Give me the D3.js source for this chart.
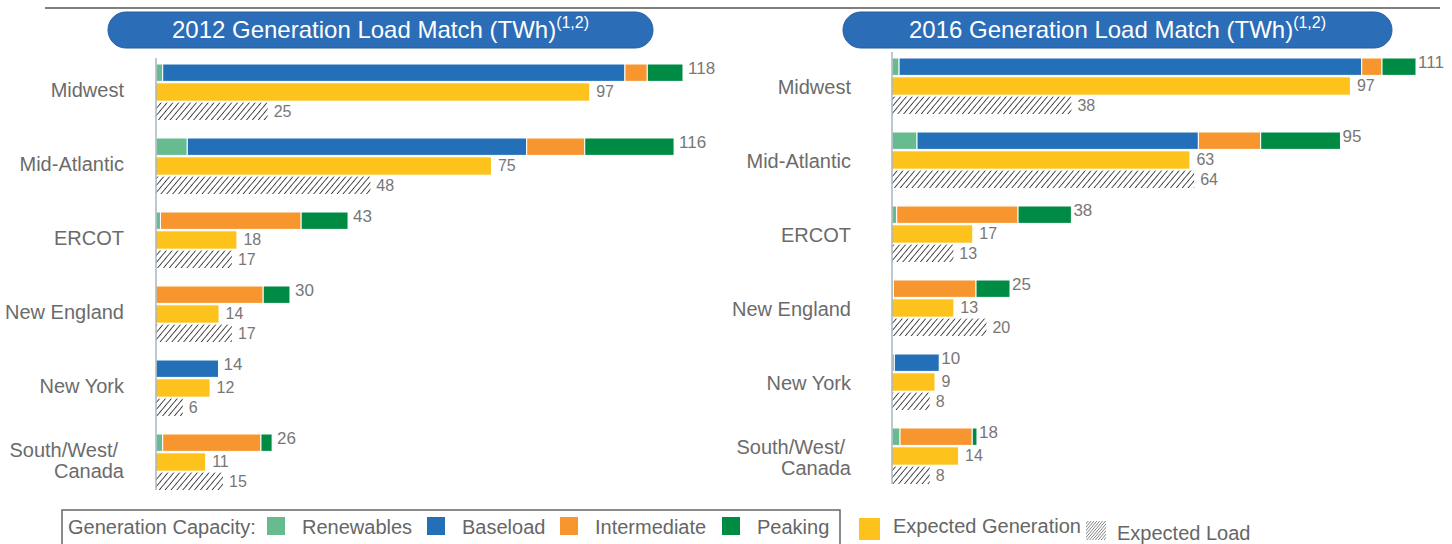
<!DOCTYPE html>
<html>
<head>
<meta charset="utf-8">
<script src="https://cdn.jsdelivr.net/npm/d3@7"></script>
<style>
    body { margin: 0; background: #fff; }
    text { font-family: "Liberation Sans", Arial, sans-serif; }
</style>
</head>
<body>
<div id="chart"></div>
<script>
// regions, top to bottom
var regions = ["Midwest", "Mid-Atlantic", "ERCOT", "New England", "New York", "South/West/Canada"];
var regionLines = [["Midwest"], ["Mid-Atlantic"], ["ERCOT"], ["New England"], ["New York"], ["South/West/", "Canada"]];

// 2012 (TWh)
var renew2012 = [1.5, 7, 1, 0, 0, 1.5];
var base2012 = [103.5, 76, 0, 0, 14, 0];
var inter2012 = [5, 13, 31.5, 24, 0, 22];
var peak2012 = [8, 20, 10.5, 6, 0, 2.5];
var capTotal2012 = [118, 116, 43, 30, 14, 26];
var gen2012 = [97, 75, 18, 14, 12, 11];
var load2012 = [25, 48, 17, 17, 6, 15];

// 2016 (TWh)
var renew2016 = [1.5, 5.3, 1, 0.3, 0.5, 1.7];
var base2016 = [98, 59.6, 0, 0, 9.5, 0];
var inter2016 = [4.3, 13.2, 25.7, 17.5, 0, 15.3];
var peak2016 = [7.2, 16.9, 11.3, 7.2, 0, 1];
var capTotal2016 = [111, 95, 38, 25, 10, 18];
var gen2016 = [97, 63, 17, 13, 9, 14];
var load2016 = [38, 64, 13, 20, 8, 8];

var capKeys = ["Renewables", "Baseload", "Intermediate", "Peaking"];
var capColors = ["#66bb8f", "#2470b8", "#f7962f", "#008b45"];
var genColor = "#fdc31c";

var width = 1452, height = 544;

var svg = d3.select("#chart").append("svg")
    .attr("width", width)
    .attr("height", height);

// hatch for expected load
var defs = svg.append("defs");
defs.append("pattern")
    .attr("id", "hatch")
    .attr("patternUnits", "userSpaceOnUse")
    .attr("width", 4.5)
    .attr("height", 4.5)
    .attr("patternTransform", "rotate(40)")
    .append("line")
    .attr("x1", 0).attr("y1", 0)
    .attr("x2", 0).attr("y2", 4.5)
    .attr("stroke", "#222")
    .attr("stroke-width", 1.6);
defs.append("pattern")
    .attr("id", "hatchSmall")
    .attr("patternUnits", "userSpaceOnUse")
    .attr("width", 2.2)
    .attr("height", 2.2)
    .attr("patternTransform", "rotate(40)")
    .append("line")
    .attr("x1", 0).attr("y1", 0)
    .attr("x2", 0).attr("y2", 2.2)
    .attr("stroke", "#555")
    .attr("stroke-width", 1.1);

// top rule
svg.append("line")
    .attr("x1", 45).attr("x2", 1440)
    .attr("y1", 8).attr("y2", 8)
    .attr("stroke", "#808080")
    .attr("stroke-width", 2);

function drawPanel(p) {
    var x = d3.scaleLinear()
        .domain([0, p.maxVal])
        .range([p.x0, p.x1]);

    var y = d3.scaleBand()
        .domain(regions)
        .range([p.top, p.top + 74 * regions.length]);

    var rows = d3.scaleBand()
        .domain(["cap", "gen", "load"])
        .range([0, 56])
        .paddingInner(0.1);

    var g = svg.append("g");

    // title pill
    g.append("rect")
        .attr("x", p.pill[0])
        .attr("y", 12)
        .attr("width", p.pill[1] - p.pill[0])
        .attr("height", 36)
        .attr("rx", 18)
        .attr("fill", "#2b6db6")
        .attr("stroke", "#245e9e")
        .attr("stroke-width", 1);

    var t = g.append("text")
        .attr("x", (p.pill[0] + p.pill[1]) / 2)
        .attr("y", 38)
        .attr("text-anchor", "middle")
        .attr("fill", "#fff")
        .style("font-size", "24px");
    t.append("tspan").text(p.title);
    t.append("tspan").attr("dy", -10).style("font-size", "16px").text("(1,2)");

    // stacked capacity
    var table = regions.map(function (r, i) {
        return { region: r, Renewables: p.renew[i], Baseload: p.base[i], Intermediate: p.inter[i], Peaking: p.peak[i] };
    });
    var stack = d3.stack().keys(capKeys)(table);

    g.selectAll(".cap")
        .data(stack)
        .enter().append("g")
        .attr("fill", function (d, i) { return capColors[i]; })
        .selectAll("rect")
        .data(function (d) { return d.filter(function (s) { return s[1] - s[0] > 0; }); })
        .enter().append("rect")
        .attr("x", function (d) { return x(d[0]); })
        .attr("width", function (d) { return x(d[1]) - x(d[0]); })
        .attr("y", function (d) { return y(d.data.region) + rows("cap"); })
        .attr("height", rows.bandwidth())
        .attr("stroke", "#fff")
        .attr("stroke-width", 1);

    g.selectAll(".capLabel")
        .data(regions)
        .enter().append("text")
        .attr("x", function (d, i) { return x(p.capTotal[i]) + p.capGap; })
        .attr("y", function (d) { return y(d) + rows("cap") + 6; })
        .attr("dominant-baseline", "middle")
        .attr("fill", "#777")
        .style("font-size", "17px")
        .text(function (d, i) { return p.capTotal[i]; });

    // expected generation
    g.selectAll(".gen")
        .data(regions)
        .enter().append("rect")
        .attr("x", x(0))
        .attr("width", function (d, i) { return x(p.gen[i]) - x(0); })
        .attr("y", function (d) { return y(d) + rows("gen"); })
        .attr("height", rows.bandwidth())
        .attr("fill", genColor);

    g.selectAll(".genLabel")
        .data(regions)
        .enter().append("text")
        .attr("x", function (d, i) { return x(p.gen[i]) + 7; })
        .attr("y", function (d) { return y(d) + rows("gen") + rows.bandwidth() / 2 + 1; })
        .attr("dominant-baseline", "middle")
        .attr("fill", "#777")
        .style("font-size", "16px")
        .text(function (d, i) { return p.gen[i]; });

    // expected load
    g.selectAll(".load")
        .data(regions)
        .enter().append("rect")
        .attr("x", x(0))
        .attr("width", function (d, i) { return x(p.load[i]) - x(0); })
        .attr("y", function (d) { return y(d) + rows("load"); })
        .attr("height", rows.bandwidth())
        .attr("fill", "url(#hatch)");

    g.selectAll(".loadLabel")
        .data(regions)
        .enter().append("text")
        .attr("x", function (d, i) { return x(p.load[i]) + 6; })
        .attr("y", function (d) { return y(d) + rows("load") + rows.bandwidth() / 2 + 1; })
        .attr("dominant-baseline", "middle")
        .attr("fill", "#777")
        .style("font-size", "16px")
        .text(function (d, i) { return p.load[i]; });

    // axis line
    g.append("line")
        .attr("x1", x(0)).attr("x2", x(0))
        .attr("y1", p.top - 6)
        .attr("y2", p.top + 74 * regions.length - 18)
        .attr("stroke", "#a8b6c2")
        .attr("stroke-width", 1.5);

    // region labels
    g.selectAll(".regionLabel")
        .data(regions)
        .enter().append("text")
        .attr("text-anchor", "end")
        .attr("fill", "#6b6b6b")
        .style("font-size", "20px")
        .each(function (d, i) {
            var lines = regionLines[i];
            var cy = y(d) + p.labelDy;
            d3.select(this).selectAll("tspan")
                .data(lines)
                .enter().append("tspan")
                .attr("x", function (l, j) { return p.labelX - (lines.length > 1 && j == 0 ? 6 : 0); })
                .attr("y", function (l, j) { return cy + 7 + (j - (lines.length - 1) / 2) * 21; })
                .text(function (l) { return l; });
        });
}

drawPanel({
    title: "2012 Generation Load Match (TWh)",
    pill: [108, 653],
    x0: 156, x1: 683, maxVal: 118,
    top: 64, labelX: 124, labelDy: 26, capGap: 5,
    renew: renew2012, base: base2012, inter: inter2012, peak: peak2012,
    capTotal: capTotal2012, gen: gen2012, load: load2012
});

drawPanel({
    title: "2016 Generation Load Match (TWh)",
    pill: [843, 1392],
    x0: 892, x1: 1416, maxVal: 111,
    top: 58, labelX: 851, labelDy: 29, capGap: 2,
    renew: renew2016, base: base2016, inter: inter2016, peak: peak2016,
    capTotal: capTotal2016, gen: gen2016, load: load2016
});

// legend
var legend = svg.append("g");
legend.append("rect")
    .attr("x", 62).attr("y", 510)
    .attr("width", 778).attr("height", 44)
    .attr("fill", "none")
    .attr("stroke", "#666")
    .attr("stroke-width", 1.5);

legend.append("text")
    .attr("x", 68).attr("y", 534)
    .attr("fill", "#666")
    .style("font-size", "20px")
    .text("Generation Capacity:");

var legendX = [267, 427, 560, 722];
capKeys.forEach(function (k, i) {
    legend.append("rect")
        .attr("x", legendX[i]).attr("y", 517)
        .attr("width", 18).attr("height", 18)
        .attr("fill", capColors[i]);
    legend.append("text")
        .attr("x", legendX[i] + 35).attr("y", 534)
        .attr("fill", "#666")
        .style("font-size", "20px")
        .text(k);
});

legend.append("rect")
    .attr("x", 859).attr("y", 518)
    .attr("width", 21).attr("height", 22)
    .attr("fill", genColor);
legend.append("text")
    .attr("x", 893).attr("y", 533)
    .attr("fill", "#666")
    .style("font-size", "20px")
    .text("Expected Generation");

legend.append("rect")
    .attr("x", 1086).attr("y", 521)
    .attr("width", 20).attr("height", 19)
    .attr("fill", "url(#hatchSmall)");
legend.append("text")
    .attr("x", 1117).attr("y", 540)
    .attr("fill", "#666")
    .style("font-size", "20px")
    .text("Expected Load");
</script>
</body>
</html>
